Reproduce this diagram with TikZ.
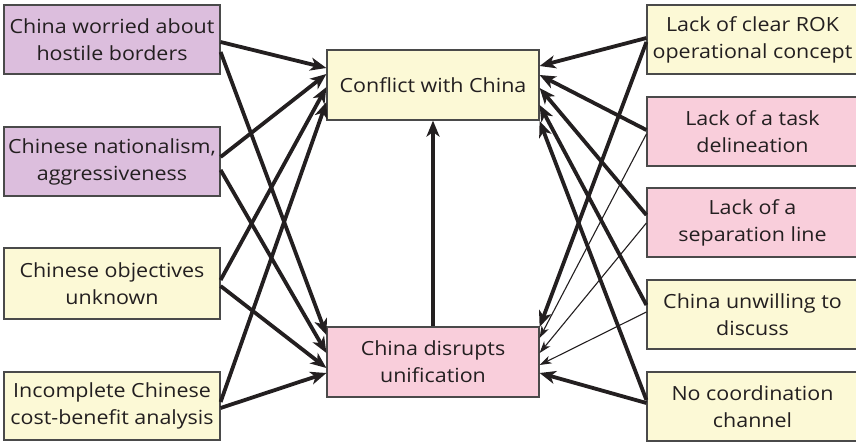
\documentclass[tikz,border=0pt]{standalone}
\usepackage{fontspec}
\setmainfont{Open Sans}[FakeStretch=1.1]
\usetikzlibrary{arrows.meta,calc}
\definecolor{boxline}{HTML}{4A4A4A}
\definecolor{txt}{HTML}{231F20}
\definecolor{lavender}{HTML}{DCBEDD}
\definecolor{cream}{HTML}{FCF9D6}
\definecolor{blush}{HTML}{F9CEDB}
\definecolor{ink}{HTML}{231F20}
\tikzset{
  factor/.style={draw=boxline, line width=1.2pt, text=txt, align=center,
    inner sep=0pt, font=\fontsize{19.5}{27}\selectfont},
  sidebox/.style={factor, minimum width=216pt, minimum height=69pt},
  rightbox/.style={factor, minimum width=211pt, minimum height=69pt},
  centerbox/.style={factor, minimum width=212pt, minimum height=70pt},
  heavy/.style={draw=ink, line width=3.8pt,
    -{Stealth[length=16pt,width=13pt,inset=4.5pt]}},
  light/.style={draw=ink, line width=1.1pt,
    -{Stealth[length=12pt,width=8pt,inset=3.5pt]}},
}
\begin{document}
\begin{tikzpicture}[x=1pt,y=-1pt]
\useasboundingbox (0,0) rectangle (856,442);

% left column
\node[sidebox, fill=lavender] (L1) at (112,39.5) {China worried about\\hostile borders};
\node[sidebox, fill=lavender] (L2) at (112,161.5) {Chinese nationalism,\\aggressiveness};
\node[sidebox, fill=cream, minimum height=71pt] (L3) at (112,283.5) {Chinese objectives\\unknown};
\node[sidebox, fill=cream, minimum height=68pt] (L4) at (112,406) {Incomplete Chinese\\cost-benefit analysis};

% centre
\node[centerbox, fill=cream] (C) at (433,85) {Conflict with China};
\node[centerbox, fill=blush] (D) at (433,362) {China disrupts\\unification};

% right column
\node[rightbox, fill=cream] (R1) at (752.5,39.5) {Lack of clear ROK\\operational concept};
\node[rightbox, fill=blush] (R2) at (752.5,131.5) {Lack of a task\\delineation};
\node[rightbox, fill=blush] (R3) at (752.5,222.5) {Lack of a\\separation line};
\node[rightbox, fill=cream] (R4) at (752.5,314.5) {China unwilling to\\discuss};
\node[rightbox, fill=cream] (R5) at (752.5,406.5) {No coordination\\channel};

% left causes
\draw[heavy] ([yshift=-2.5pt]L1.east) -- ([yshift=17pt]C.west);
\draw[heavy] ([yshift=-12.5pt]L1.east) -- ([yshift=27pt]D.west);
\draw[heavy] ([yshift=4.5pt]L2.east) -- ([yshift=11pt]C.west);
\draw[heavy] ([yshift=-8.5pt]L2.east) -- ([yshift=9pt]D.west);
\draw[heavy] ([yshift=3.5pt]L3.east) -- ([yshift=-2pt]C.west);
\draw[heavy] ([yshift=-2.5pt]L3.east) -- ([yshift=-6pt]D.west);
\draw[heavy] ([yshift=4pt]L4.east) -- ([yshift=-17pt]C.west);
\draw[heavy] ([yshift=-2pt]L4.east) -- ([yshift=-11pt]D.west);

% disruption leads to conflict
\draw[heavy] (D.north) -- (C.south);

% right causes
\draw[heavy] ([yshift=1.5pt]R1.west) -- ([yshift=19pt]C.east);
\draw[heavy] ([yshift=-2.5pt]R1.west) -- ([yshift=35pt]D.east);
\draw[heavy] ([yshift=1.5pt]R2.west) -- ([yshift=10pt]C.east);
\draw[light] ([yshift=-2.5pt]R2.west) -- ([yshift=24pt]D.east);
\draw[heavy] ([yshift=7.5pt]R3.west) -- ([yshift=-3pt]C.east);
\draw[light] ([yshift=-0.5pt]R3.west) -- ([yshift=9pt]D.east);
\draw[heavy] ([yshift=9.5pt]R4.west) -- ([yshift=-20pt]C.east);
\draw[light] ([yshift=2.5pt]R4.west) -- ([yshift=-3pt]D.east);
\draw[heavy] ([yshift=6.5pt]R5.west) -- ([yshift=-36pt]C.east);
\draw[heavy] ([yshift=3.5pt]R5.west) -- ([yshift=-11pt]D.east);
\end{tikzpicture}
\end{document}
